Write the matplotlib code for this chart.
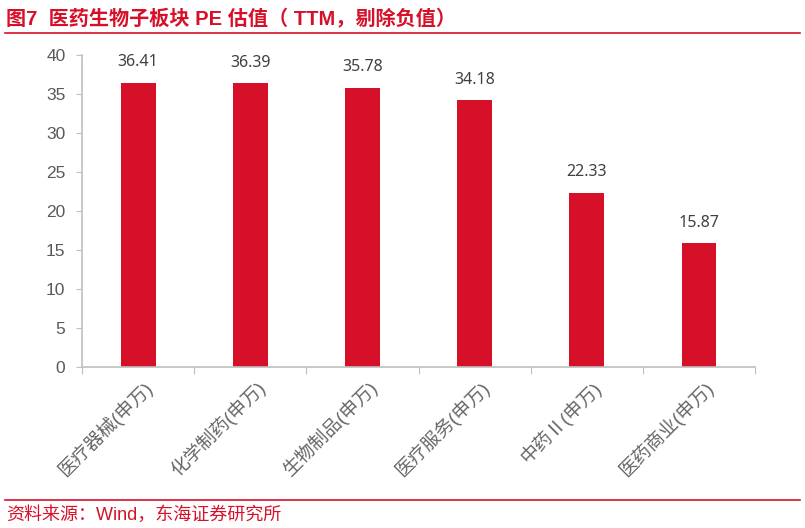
import numpy as np
import matplotlib.pyplot as plt
from matplotlib.lines import Line2D

plt.rcParams["font.family"] = ["Liberation Sans", "Noto Sans CJK SC", "DejaVu Sans"]

categories = ["医疗器械(申万)", "化学制药(申万)", "生物制品(申万)",
              "医疗服务(申万)", "中药Ⅱ(申万)", "医药商业(申万)"]
pe_values = [36.41, 36.39, 35.78, 34.18, 22.33, 15.87]
y_ticks = [0, 5, 10, 15, 20, 25, 30, 35, 40]

RED = "#D7102A"
GRAY = "#595959"

fig = plt.figure(figsize=(8.05, 5.28), dpi=100)
ax = fig.add_axes([0.102, 0.305, 0.836, 0.591])

ind = np.arange(len(categories))
bars = ax.bar(ind, pe_values, width=0.31, color=RED, zorder=2)

for x, v in zip(ind, pe_values):
    ax.annotate("%.2f" % v, (x, v), xytext=(0, 9), textcoords="offset points",
                ha="center", va="bottom", fontsize=11.5, color="#404040",
                family=["Noto Sans", "DejaVu Sans"])

ax.set_xlim(-0.5, len(categories) - 0.5)
ax.set_ylim(0, 40)
ax.set_yticks(y_ticks)
ax.tick_params(axis="y", colors="#BFBFBF", labelcolor=GRAY, labelsize=12.5,
               length=4, direction="out", pad=8)

# category boundary ticks on x axis
ax.set_xticks(np.arange(len(categories) + 1) - 0.5)
ax.set_xticklabels([])
ax.tick_params(axis="x", colors="#BFBFBF", length=5, direction="out")
for x, lab in zip(ind, categories):
    ax.text(x + 0.04, -1.3, lab, rotation=45, rotation_mode="anchor",
            ha="right", va="top", fontsize=13.5, color="#666666")

for s in ["top", "right"]:
    ax.spines[s].set_visible(False)
ax.spines["left"].set_color("#BFBFBF")
ax.spines["bottom"].set_color("#BFBFBF")
ax.spines["left"].set_linewidth(1.2)
ax.spines["bottom"].set_linewidth(1.2)

fig.text(0.008, 0.966, "图7  医药生物子板块 PE 估值（ TTM，剔除负值）", color=RED,
         fontsize=14.5, fontweight="bold", ha="left", va="center")
fig.add_artist(Line2D([0.006, 0.994], [0.938, 0.938], color=RED, lw=1.2,
                      transform=fig.transFigure))
fig.add_artist(Line2D([0.006, 0.994], [0.053, 0.053], color=RED, lw=1.2,
                      transform=fig.transFigure))
fig.text(0.008, 0.025, "资料来源：Wind，东海证券研究所", color=RED,
         fontsize=13, ha="left", va="center")

fig.savefig("out.png", dpi=100)
